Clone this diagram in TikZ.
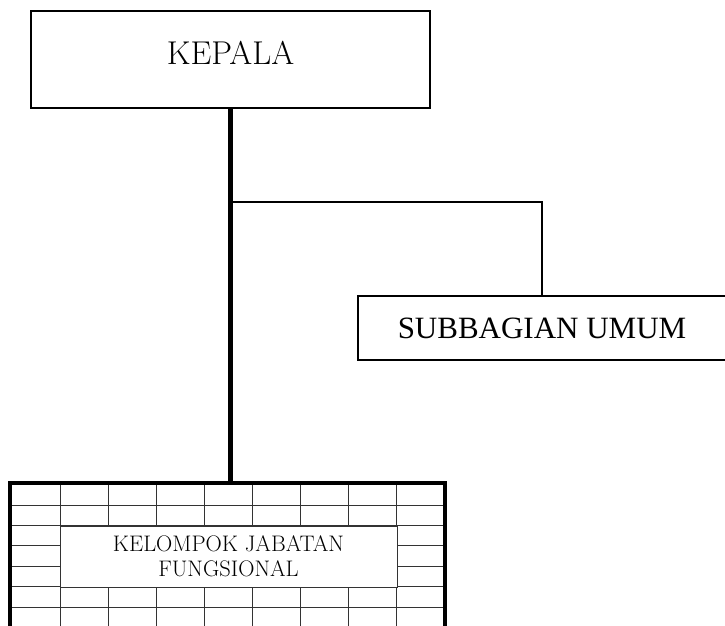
\documentclass[tikz,border=0pt]{standalone}
\usepackage{fontspec}
\newfontfamily\timesfont{Liberation Serif}
\usetikzlibrary{positioning}

\begin{document}
\begin{tikzpicture}[x=1pt, y=-1pt,
  headbox/.style={draw, line width=2pt, minimum width=399pt, minimum height=97pt, inner sep=0pt, text depth=13pt, font=\fontsize{33}{40}\selectfont},
  subbox/.style={draw, line width=1.3pt, minimum width=368pt, minimum height=64pt, inner sep=0pt, font=\timesfont\fontsize{31}{37}\selectfont},
  fungbox/.style={draw=black!80, line width=1pt, fill=white, minimum width=337pt, minimum height=61pt, inner sep=0pt, align=center, font=\fontsize{22.5}{25}\selectfont},
  gridline/.style={black!80, line width=1pt},
  gridedge/.style={line width=3.5pt},
  mainline/.style={line width=5.5pt},
  branchline/.style={line width=1.5pt}]
\clip (0,0) rectangle (725,626);
% Grid sizes
\def\gtop{483}
\def\gleft{10}
\def\gright{445}
\def\gbot{630}

% Boxes
\node[headbox] (kepala) at (230.5,59.5) {KEPALA};
\node[subbox] (umum) at (542,328) {SUBBAGIAN UMUM};

% Grid of the functional group
\foreach \i in {0,...,7}
    \draw[gridline] ({60+48.14*\i},\gtop) -- ({60+48.14*\i},\gbot);
\foreach \j in {0,...,5}
    \draw[gridline] (\gleft,{505+20.4*\j}) -- (\gright,{505+20.4*\j});
\node[fungbox] (fungsional) at (228.5,556.5) {KELOMPOK JABATAN\\FUNGSIONAL};
\draw[gridedge] (\gleft,\gbot) -- (\gleft,\gtop) -- (\gright,\gtop) -- (\gright,\gbot);

% Lines
\coordinate (gridtop) at (0,\gtop);
\coordinate (branch) at (0,202);
\draw[mainline] (kepala.south) -- (kepala.south |- gridtop);
\draw[branchline] (kepala.south |- branch) -| (umum.north);
\end{tikzpicture}
\end{document}
